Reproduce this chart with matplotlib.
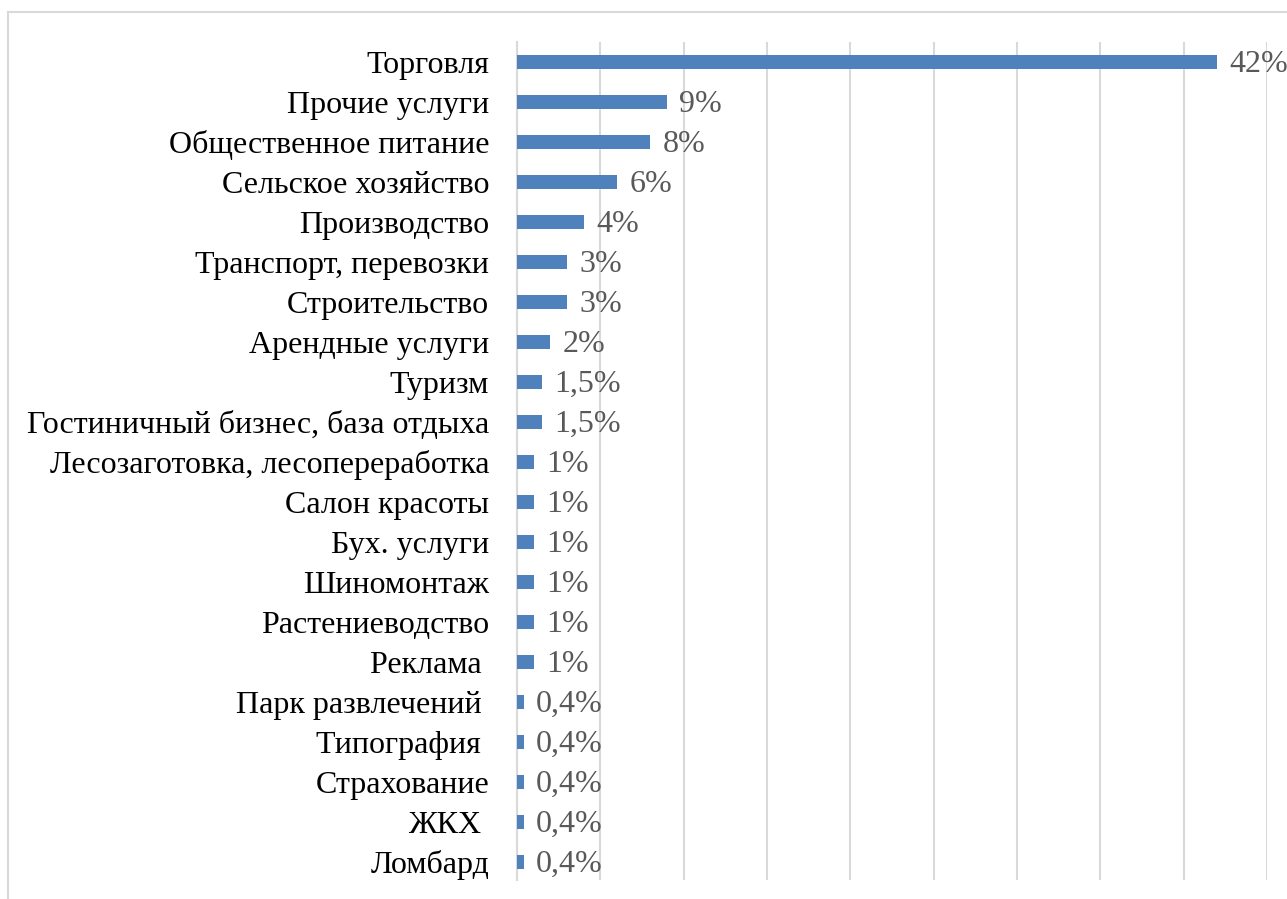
import matplotlib
matplotlib.use("Agg")
import matplotlib.pyplot as plt
from matplotlib.lines import Line2D

categories = ["Торговля", "Прочие услуги", "Общественное питание", "Сельское хозяйство",
              "Производство", "Транспорт, перевозки", "Строительство", "Арендные услуги",
              "Туризм", "Гостиничный бизнес, база отдыха", "Лесозаготовка, лесопереработка",
              "Салон красоты", "Бух. услуги", "Шиномонтаж", "Растениеводство", "Реклама ",
              "Парк развлечений ", "Типография ", "Страхование", "ЖКХ ", "Ломбард"]
values = [42, 9, 8, 6, 4, 3, 3, 2, 1.5, 1.5, 1, 1, 1, 1, 1, 1, 0.4, 0.4, 0.4, 0.4, 0.4]
value_labels = ["42%", "9%", "8%", "6%", "4%", "3%", "3%", "2%", "1,5%", "1,5%", "1%", "1%",
                "1%", "1%", "1%", "1%", "0,4%", "0,4%", "0,4%", "0,4%", "0,4%"]

plt.rcParams['font.family'] = ['Liberation Serif', 'DejaVu Serif']

W, H = 1287, 899
fig = plt.figure(figsize=(W / 100, H / 100), dpi=100)
ax = fig.add_axes([517 / W, 1 - 880 / H, (1267 - 517) / W, (880 - 42) / H])

ypos = list(range(len(categories)))
ax.barh(ypos, values, height=0.35, color="#4F81BD", zorder=3)
ax.set_xlim(0, 45)
ax.set_ylim(len(categories) - 1 + 0.45, -0.5)
ax.set_xticks([0, 5, 10, 15, 20, 25, 30, 35, 40, 45])
ax.set_xticklabels([])
ax.tick_params(axis='x', length=0)
ax.grid(axis='x', color="#D9D9D9", linewidth=1.5, zorder=0)
ax.set_yticks(ypos)
ax.set_yticklabels(categories, fontsize=23, color="black")
ax.tick_params(axis='y', length=0, pad=20)
for s in ["top", "right", "bottom"]:
    ax.spines[s].set_visible(False)
ax.spines["left"].set_color("#D9D9D9")
ax.spines["left"].set_linewidth(1.5)

for y, v, lab in zip(ypos, values, value_labels):
    ax.annotate(lab, (v, y), xytext=(9, -1.5), textcoords="offset points",
                va="center", ha="left", fontsize=23, color="#595959")

# outer chart frame (partially visible)
fig.add_artist(Line2D([8 / W, 8 / W], [0, 1 - 12 / H], transform=fig.transFigure,
                      color="#D9D9D9", linewidth=1.5))
fig.add_artist(Line2D([8 / W, 1], [1 - 12 / H, 1 - 12 / H], transform=fig.transFigure,
                      color="#D9D9D9", linewidth=1.5))

fig.savefig("out.png", dpi=100)
